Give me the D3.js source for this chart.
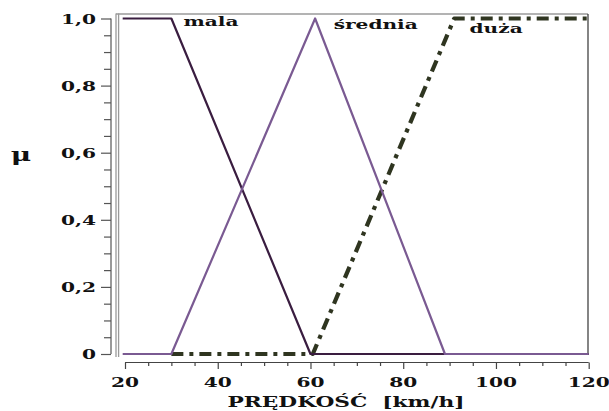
<!DOCTYPE html>
<html>
<head>
<meta charset="utf-8">
<script src="https://cdn.jsdelivr.net/npm/d3@7"></script>
<style>
  html, body { margin: 0; padding: 0; background: #fff; }
  svg { display: block; }
  svg text.lbl { font-weight: 700; fill: #111; white-space: pre; }
</style>
</head>
<body>
<svg id="chart" width="609" height="411"></svg>
<script>
// Membership functions for speed (km/h)
const speedMala = [19.5, 30, 60, 120];
const muMala    = [1, 1, 0, 0];
const speedSrednia = [19.5, 30, 61, 89, 120];
const muSrednia    = [0, 0, 1, 0, 0];
const speedDuza = [30, 60.5, 91, 120];
const muDuza    = [0, 0, 1, 1];

const seriesNames = ["mala", "średnia", "duża"];
const xTicks = [20, 40, 60, 80, 100, 120];
const xTickLabels = ["20", "40", "60", "80", "100", "120"];
const yTicks = [0, 0.2, 0.4, 0.6, 0.8, 1.0];
const yTickLabels = ["0", "0,2", "0,4", "0,6", "0,8", "1,0"];
const xTitle = "PRĘDKOŚĆ  [km/h]";
const yTitle = "μ";

const svg = d3.select("#chart");
const x = d3.scaleLinear().domain([20, 120]).range([125, 588.7]);
const y = d3.scaleLinear().domain([0, 1]).range([354, 18.5]);

const SX = 1.55; // wide lettering
function wideText(g, px, py, str, anchor, size) {
  return g.append("text")
    .attr("class", "lbl")
    .attr("font-family", "DejaVu Serif, Liberation Serif, serif")
    .attr("transform", `translate(${px},${py}) scale(${SX},1)`)
    .attr("text-anchor", anchor)
    .style("font-size", size + "px")
    .text(str);
}

// plot frame
const frame = svg.append("g").attr("fill", "none");
frame.append("line").attr("x1", 116).attr("x2", 116).attr("y1", 13.5).attr("y2", 357).attr("stroke", "#9a9a9a").attr("stroke-width", 1.3);
frame.append("line").attr("x1", 118.6).attr("x2", 118.6).attr("y1", 13.5).attr("y2", 357).attr("stroke", "#9a9a9a").attr("stroke-width", 1.3);
frame.append("line").attr("x1", 116).attr("x2", 588).attr("y1", 14).attr("y2", 14).attr("stroke", "#9a9a9a").attr("stroke-width", 1.4);
frame.append("line").attr("x1", 588).attr("x2", 588).attr("y1", 14).attr("y2", 355).attr("stroke", "#333").attr("stroke-width", 1.2);

// y axis
const yMinor = d3.range(0, 1.0001, 0.05);
const yAxisG = svg.append("g").attr("transform", "translate(111,0)");
yAxisG.call(d3.axisLeft(y).tickValues(yMinor).tickSize(7).tickFormat(""));
yAxisG.call(g => g.selectAll(".tick line").filter(d => yTicks.some(t => Math.abs(t - d) < 1e-6)).attr("x2", -10));
yAxisG.selectAll("path, line").attr("stroke", "#555").attr("stroke-width", 1.2);
yAxisG.select(".domain").attr("d", `M0,${y(1)}V${y(0)}`);
yTicks.forEach((t, i) => wideText(svg, 96, y(t) + 5, yTickLabels[i], "end", 13));

// x axis
const xMinor = d3.range(20, 120.001, 5);
const xAxisG = svg.append("g").attr("transform", "translate(0,362.5)");
xAxisG.call(d3.axisBottom(x).tickValues(xMinor).tickSize(3.5).tickFormat(""));
xAxisG.call(g => g.selectAll(".tick line").filter(d => xTicks.includes(d)).attr("y2", 6.5));
xAxisG.selectAll("path, line").attr("stroke", "#444").attr("stroke-width", 1.2);
xAxisG.select(".domain").attr("d", `M${x(20)},0H${x(120)}`);
xTicks.forEach((t, i) => wideText(svg, x(t), 387, xTickLabels[i], "middle", 13));

// axis titles
wideText(svg, 346, 407, xTitle, "middle", 14);
wideText(svg, 21, 161, yTitle, "middle", 18);

// membership curves
const line = d3.line().x(d => x(d[0])).y(d => y(d[1]));
const plot = svg.append("g").attr("fill", "none").attr("stroke-linejoin", "round");
plot.append("path")
  .attr("d", line(d3.zip(speedDuza, muDuza)))
  .attr("stroke", "#2f3520").attr("stroke-width", 4.2)
  .attr("stroke-dasharray", "12,6,4,6");
plot.append("path")
  .attr("d", line(d3.zip(speedMala, muMala)))
  .attr("stroke", "#3a1d40").attr("stroke-width", 2.2);
plot.append("path")
  .attr("d", line(d3.zip(speedSrednia, muSrednia)))
  .attr("stroke", "#7a5a92").attr("stroke-width", 2.2);

// series labels
wideText(svg, x(32.6), 26, seriesNames[0], "start", 13);
wideText(svg, x(65), 29, seriesNames[1], "start", 13);
wideText(svg, x(94.3), 33, seriesNames[2], "start", 13);
</script>
</body>
</html>
